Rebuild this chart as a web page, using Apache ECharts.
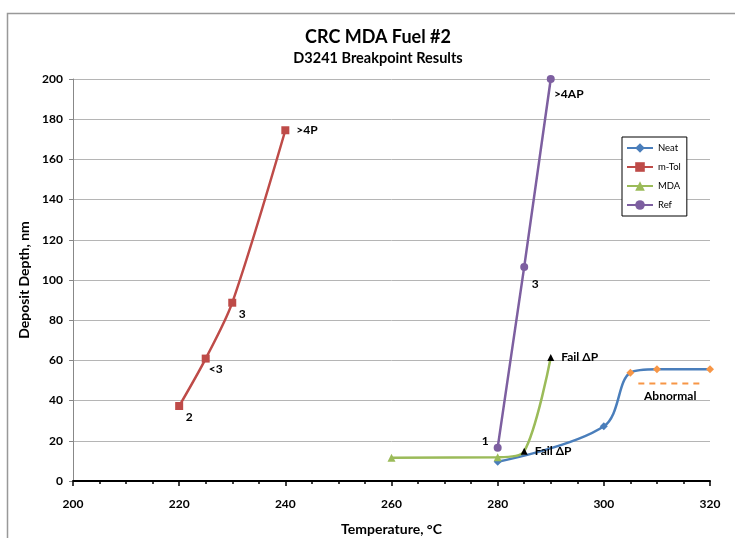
<!DOCTYPE html>
<html>
<head>
<meta charset="utf-8">
<script src="https://cdn.jsdelivr.net/npm/echarts@6/dist/echarts.min.js"></script>
<style>
  html, body { margin: 0; padding: 0; background: #fff; }
  #chart { width: 735px; height: 538px; }
</style>
</head>
<body>
<div id="chart"></div>
<script>
// values
var neatX = [280, 300, 305, 310, 320];
var neatY = [9.6, 27.2, 53.9, 55.6, 55.6];

var mtolX = [220, 225, 230, 240];
var mtolY = [37.3, 60.9, 88.7, 174.5];
var mtolLabels = ['2', '<3', '3', '>4P'];

var mdaX = [260, 280, 285, 290];
var mdaY = [11.6, 11.8, 14.8, 61.4];
var mdaLabels = ['', '', 'Fail \u0394P', 'Fail \u0394P'];

var refX = [280, 285, 290];
var refY = [16.6, 106.5, 200];
var refLabels = ['1', '3', '>4AP'];

var abnormalX = [306.5, 318.5];
var abnormalY = [48.5, 48.5];

var xTicks = [200, 220, 240, 260, 280, 300, 320];
var yTicks = [0, 20, 40, 60, 80, 100, 120, 140, 160, 180, 200];

var font = 'Lato, "Open Sans", sans-serif';
var blue = '#4a7ebb', red = '#be4b48', green = '#9bbb59', purple = '#7d5fa0', orange = '#f79646';

function pairs(xs, ys) {
    return xs.map(function (x, i) { return [x, ys[i]]; });
}

var labelStyle = {color: '#000', fontFamily: font, fontWeight: 'bold', fontSize: 12};

var neatData = pairs(neatX, neatY).map(function (p, i) {
    var d = {value: p};
    if (i >= 2) {
        d.itemStyle = {color: orange};
    }
    return d;
});

var mtolData = pairs(mtolX, mtolY).map(function (p, i) {
    var last = i === mtolX.length - 1;
    return {
        value: p,
        label: {show: true, formatter: mtolLabels[i], position: last ? 'right' : 'bottom',
            offset: last ? [2, 0] : [10, -4]}
    };
});

var mdaData = pairs(mdaX, mdaY).map(function (p, i) {
    var d = {value: p};
    if (mdaLabels[i]) {
        d.itemStyle = {color: '#000'};
        d.symbolSize = 7;
        d.label = {show: true, formatter: mdaLabels[i], position: 'right', offset: [2, 0]};
    }
    return d;
});

var refData = pairs(refX, refY).map(function (p, i) {
    var pos = i === 0 ? 'left' : 'bottom';
    var off = i === 0 ? [0, -7] : (i === 1 ? [11, 2] : [18, 0]);
    return {value: p, label: {show: true, formatter: refLabels[i], position: pos, offset: off}};
});

var myChart = echarts.init(document.getElementById('chart'));
myChart.setOption({
    backgroundColor: '#fff',
    animation: false,
    graphic: [
        {
            type: 'rect',
            shape: {x: 7.5, y: 13.5, width: 740, height: 540},
            style: {fill: 'none', stroke: '#999', lineWidth: 1.5},
            z: -1
        }
    ],
    title: {
        text: 'CRC MDA Fuel #2',
        subtext: 'D3241 Breakpoint Results',
        left: 373,
        textAlign: 'center',
        top: 23,
        itemGap: 5,
        textStyle: {fontFamily: font, fontWeight: 'bold', fontSize: 18, color: '#000'},
        subtextStyle: {fontFamily: font, fontWeight: 'bold', fontSize: 14.5, color: '#000'}
    },
    legend: {
        orient: 'vertical',
        left: 622,
        top: 137,
        width: 58,
        padding: [6, 6, 6, 4],
        itemGap: 9,
        itemWidth: 26,
        itemHeight: 12,
        borderColor: '#000',
        borderWidth: 1,
        backgroundColor: '#fff',
        textStyle: {fontFamily: font, fontSize: 9.5, color: '#000'},
        data: ['Neat', 'm-Tol', 'MDA', 'Ref']
    },
    grid: {left: 73, right: 25, top: 79, bottom: 57, outerBoundsMode: 'none'},
    xAxis: {
        type: 'value',
        min: 200,
        max: 320,
        interval: 20,
        name: 'Temperature, \u00b0C',
        nameLocation: 'middle',
        nameGap: 41,
        nameTextStyle: {fontFamily: font, fontWeight: 'bold', fontSize: 14, color: '#000'},
        axisLine: {show: true, lineStyle: {color: '#000', width: 2}},
        axisTick: {show: true, length: 5, inside: false, lineStyle: {color: '#000', width: 1.5}},
        minorTick: {show: true, splitNumber: 4, length: 3, lineStyle: {color: '#000', width: 1.5}},
        splitLine: {show: false},
        axisLabel: {
            margin: 17,
            fontFamily: font, fontWeight: 'bold', fontSize: 12, color: '#000',
            formatter: function (v) { return xTicks.indexOf(v) >= 0 ? String(v) : ''; }
        }
    },
    yAxis: {
        type: 'value',
        min: 0,
        max: 200,
        interval: 20,
        name: 'Deposit Depth, nm',
        nameLocation: 'middle',
        nameGap: 42,
        nameTextStyle: {fontFamily: font, fontWeight: 'bold', fontSize: 14, color: '#000'},
        axisLine: {show: true, lineStyle: {color: '#888', width: 1}},
        axisTick: {show: true, length: 4, lineStyle: {color: '#888'}},
        splitLine: {show: true, lineStyle: {color: '#b5b5b5', width: 1}},
        axisLabel: {
            margin: 10,
            fontFamily: font, fontWeight: 'bold', fontSize: 12, color: '#000',
            formatter: function (v) { return yTicks.indexOf(v) >= 0 ? String(v) : ''; }
        }
    },
    series: [
        {
            name: 'Neat',
            type: 'line',
            smooth: 0.35,
            data: neatData,
            symbol: 'diamond',
            symbolSize: 8,
            itemStyle: {color: blue},
            lineStyle: {color: blue, width: 2.5},
            z: 3
        },
        {
            name: 'm-Tol',
            type: 'line',
            smooth: 0.3,
            data: mtolData,
            symbol: 'rect',
            symbolSize: 8,
            itemStyle: {color: red},
            lineStyle: {color: red, width: 2.5},
            label: labelStyle
        },
        {
            name: 'MDA',
            type: 'line',
            smooth: 0.3,
            data: mdaData,
            symbol: 'triangle',
            symbolSize: 8,
            itemStyle: {color: green},
            lineStyle: {color: green, width: 2.5},
            label: labelStyle
        },
        {
            name: 'Ref',
            type: 'line',
            smooth: false,
            data: refData,
            symbol: 'circle',
            symbolSize: 8,
            itemStyle: {color: purple},
            lineStyle: {color: purple, width: 2.5},
            label: labelStyle
        },
        {
            name: 'Abnormal',
            type: 'line',
            data: pairs(abnormalX, abnormalY),
            symbol: 'none',
            lineStyle: {color: orange, width: 2, type: [6, 5]},
            endLabel: {
                show: true,
                formatter: 'Abnormal',
                offset: [-66, 13],
                fontFamily: font, fontWeight: 'bold', fontSize: 12, color: '#000'
            },
            silent: true
        }
    ]
});
</script>
</body>
</html>
